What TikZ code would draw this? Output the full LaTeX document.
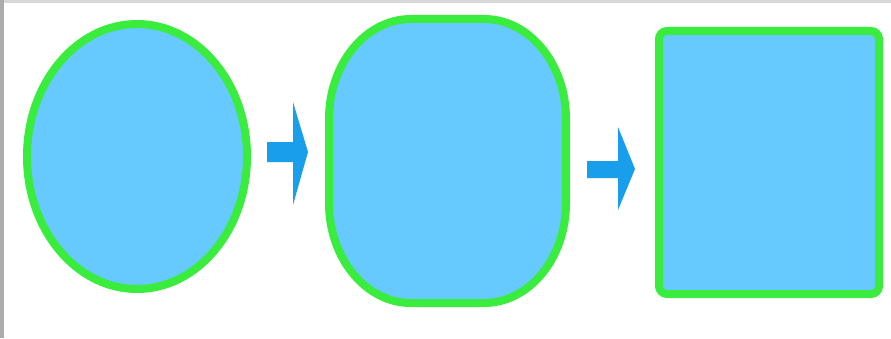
\documentclass[tikz,border=0pt]{standalone}
\definecolor{shapefill}{RGB}{102,202,255}
\definecolor{shapeline}{RGB}{58,236,62}
\definecolor{arrowblue}{RGB}{25,158,235}
\definecolor{edgegrayL}{RGB}{172,172,172}
\definecolor{edgegrayT}{RGB}{216,216,216}
\tikzset{
  blob/.style={fill=shapefill,draw=shapeline,line width=8pt},
  blockarrow/.style={fill=arrowblue,draw=none}
}
\begin{document}
\begin{tikzpicture}[x=1pt,y=1pt]
\useasboundingbox (0,0) rectangle (891,338);
\fill[white] (0,0) rectangle (891,338);
\fill[edgegrayT] (0,335) rectangle (891,338);
\fill[edgegrayL] (0,0) rectangle (4,338);
% ellipse
\path[blob] (137,181.5) ellipse [x radius=110, y radius=132.5];
% rounded blob
\path[blob] (411,319) -- (484,319)
  arc[start angle=90,end angle=0,x radius=82,y radius=100] -- (566,135)
  arc[start angle=0,end angle=-90,x radius=82,y radius=100] -- (411,35)
  arc[start angle=-90,end angle=-180,x radius=82,y radius=100] -- (329,219)
  arc[start angle=180,end angle=90,x radius=82,y radius=100] -- cycle;
% rounded rectangle
\path[blob,rounded corners=8pt] (659,44) rectangle (879,307);
% arrows
\path[blockarrow] (267,196) -- (293,196) -- (293,236) -- (308,186) -- (293,133) -- (293,176) -- (267,176) -- cycle;
\path[blockarrow] (587,177) -- (618,177) -- (618,211) -- (635,169) -- (618,128) -- (618,160) -- (587,160) -- cycle;
\end{tikzpicture}
\end{document}
